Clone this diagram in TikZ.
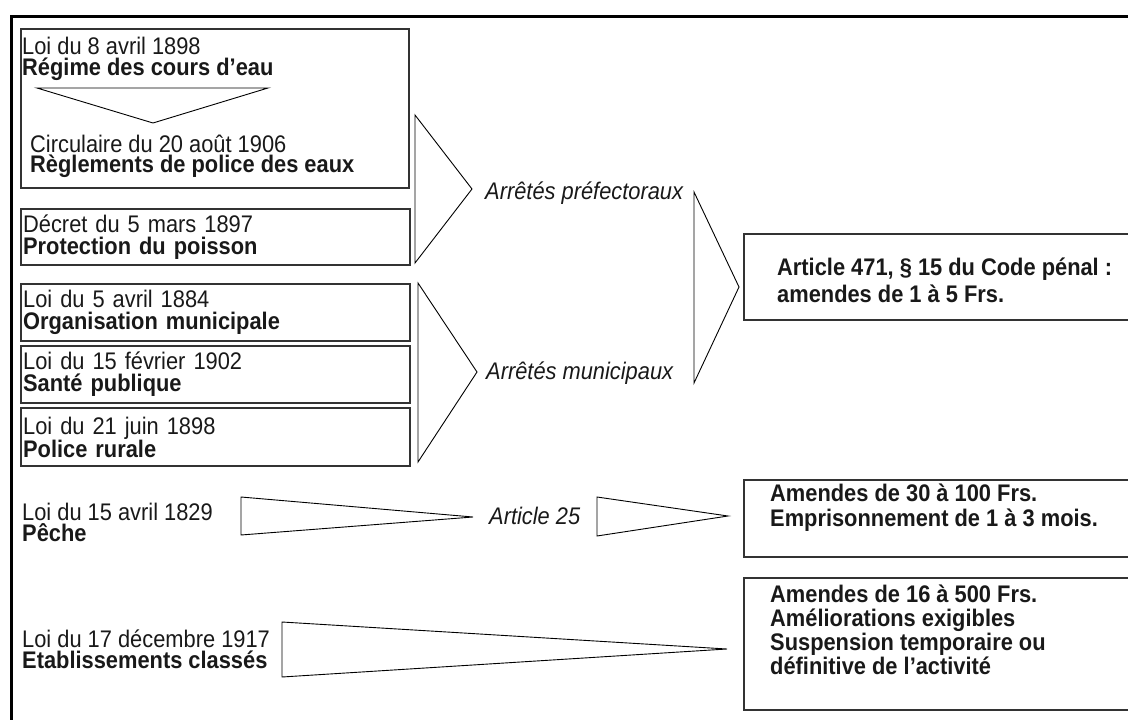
\documentclass[tikz,border=0pt]{standalone}
\usepackage{fontspec}
\setmainfont{Liberation Sans}[FakeStretch=0.91]
\usepackage{tikz}

\begin{document}
\begin{tikzpicture}[x=1pt,y=-1pt,
  cadre/.style={draw=black!80,line width=2.3pt,anchor=north west,inner sep=0pt},
  texte/.style={anchor=base west,align=left,inner sep=0pt,text=black!90,
    font=\fontsize{24}{21}\selectfont},
  loi/.style={cadre,texte,anchor=north west,inner xsep=2pt,text width=385,
    font=\fontsize{24}{22}\selectfont},
  gras/.style={texte,font=\fontsize{24}{#1}\selectfont\bfseries},
  italique/.style={texte,font=\fontsize{24}{21}\selectfont\itshape},
  coin/.style={draw,line width=0.9pt,line join=miter}]
  \useasboundingbox (0,0) rectangle (1128,720);
  \clip (0,0) rectangle (1128,720);
  % outer frame
  \draw[line width=3pt] (11,740) |- (1150,16.7);
  % water law box
  \node[cadre,minimum width=388,minimum height=159] (regime) at (20,28) {};
  \node[texte] (regimetxt) at (22,75) {Loi du 8 avril 1898\\\textbf{Régime des cours d'eau}};
  \draw[coin] (37,88) -- (268,88) -- (153,123) -- cycle;
  \node[texte,font=\fontsize{24}{20}\selectfont] (circtxt) at (30,172)
    {Circulaire du 20 août 1906\\\textbf{Règlements de police des eaux}};
  % other laws
  \node[loi,minimum height=56] (decret) at (20,208)
    {Décret du 5 mars 1897\\\textbf{Protection du poisson}};
  \node[loi,minimum height=57] (organisation) at (20,283)
    {Loi du 5 avril 1884\\\textbf{Organisation municipale}};
  \node[loi,minimum height=57] (sante) at (20,345)
    {Loi du 15 février 1902\\\textbf{Santé publique}};
  \node[loi,minimum height=58] (rurale) at (20,407)
    {Loi du 21 juin 1898\\\textbf{Police rurale}};
  % wedges to the decrees
  \draw[coin] (415,115) -- (472,189) -- (415,263) -- cycle;
  \draw[coin] (418,283) -- (477,372) -- (418,462) -- cycle;
  \node[italique] (prefect) at (485,199) {Arrêtés préfectoraux};
  \node[italique] (municip) at (486,379) {Arrêtés municipaux};
  \draw[coin] (694,192) -- (739,287) -- (694,383) -- cycle;
  % penalties
  \node[cadre,minimum width=400,minimum height=86] (article) at (743,233) {};
  \node[gras=27.5] (articletxt) at (777,302.5) {Article 471, § 15 du Code pénal :\\amendes de 1 à 5 Frs.};
  % fishing
  \node[texte] (peche) at (22,541) {Loi du 15 avril 1829\\\textbf{Pêche}};
  \draw[coin] (241,497) -- (473,517) -- (241,535) -- cycle;
  \node[italique] (art25) at (489,524) {Article 25};
  \draw[coin] (597,497) -- (728,516) -- (597,536) -- cycle;
  \node[cadre,minimum width=400,minimum height=77] (peine) at (743,479) {};
  \node[gras=25.5] (peinetxt) at (770,526.5) {Amendes de 30 à 100 Frs.\\Emprisonnement de 1 à 3 mois.};
  % classified sites
  \node[texte] (classes) at (22,668)
    {Loi du 17 décembre 1917\\\textbf{Etablissements classés}};
  \draw[coin] (282,622) -- (727,649) -- (282,677) -- cycle;
  \node[cadre,minimum width=400,minimum height=132] (sanction) at (743,577) {};
  \node[gras=24] (sanctiontxt) at (770,674) {Amendes de 16 à 500 Frs.\\Améliorations exigibles\\Suspension temporaire ou\\définitive de l'activité};
\end{tikzpicture}
\end{document}
